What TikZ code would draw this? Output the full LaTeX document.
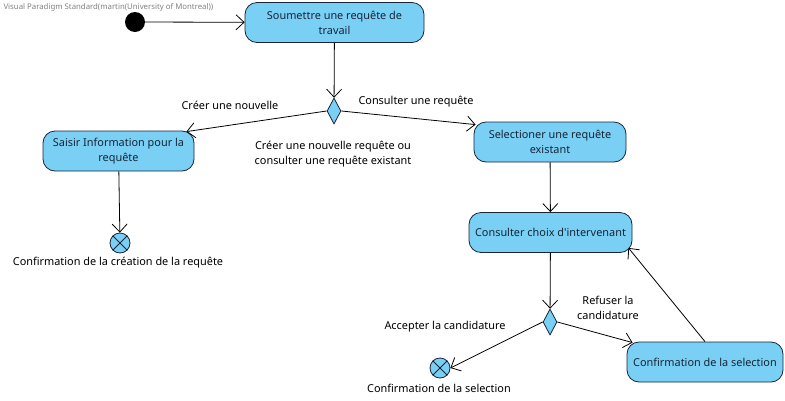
\documentclass[tikz,border=0pt]{standalone}
\usepackage{fontspec}
\setmainfont{Noto Sans}
\usepackage{xcolor}
\usetikzlibrary{shapes.geometric, arrows.meta, positioning}

\definecolor{actblue}{RGB}{122,207,245}
\definecolor{actline}{RGB}{22,38,56}

\begin{document}
\begin{tikzpicture}[
        x=1pt, y=-1pt,
        font=\fontsize{10.9}{15}\selectfont,
        action/.style={rectangle, draw=actline, line width=0.8pt, fill=actblue, text=actline, rounded corners=12pt, align=center, minimum width=#1, minimum height=40pt, inner xsep=4pt, inner ysep=2pt},
        choice/.style={diamond, draw=actline, line width=0.8pt, fill=actblue, minimum width=14pt, minimum height=26pt, inner sep=0pt},
        start/.style={circle, fill=black, minimum size=20pt, inner sep=0pt},
        finish/.style={circle, draw=actline, line width=0.8pt, fill=actblue, minimum size=20pt, inner sep=0pt},
        arrow/.style={-{Straight Barb[length=8pt, width=15pt]}, line width=0.8pt}
    ]
    \useasboundingbox (0,0) rectangle (785,400);

    \node [anchor=west, text=gray, font=\fontsize{7.8}{9}\selectfont] (mark) at (0,7) {Visual Paradigm Standard(martin(University of Montreal))};

    \node [start] (init) at (135,22) {};
    \node [action=179pt] (submit) at (334.5,22.5) {Soumettre une requête de\\travail};
    \node [choice] (choix1) at (334,111) {};

    \node [action=151pt] (saisir) at (118.5,151) {Saisir Information pour la\\requête};
    \node [finish] (fin1) at (120,243) {};

    \node [action=152pt] (select) at (550,142) {Selectioner une requête\\existant};
    \node [action=163pt] (consult) at (550.5,232.5) {Consulter choix d\textquotesingle intervenant};
    \node [choice] (choix2) at (550,322) {};
    \node [finish] (fin2) at (440,368) {};
    \node [action=156pt] (confirm) at (705,362) {Confirmation de la selection};

    % labels
    \node (lblnew) at (230,105) {Créer une nouvelle};
    \node (lblcons) at (416,102) {Consulter une requête};
    \node [align=center] (lblchoix) at (333,154) {Créer une nouvelle requête ou\\consulter une requête existant};
    \node (lblfin1) at (118,263) {Confirmation de la création de la requête};
    \node (lblacc) at (445,327) {Accepter la candidature};
    \node [align=center] (lblref) at (608,308) {Refuser la\\candidature};
    \node (lblfin2) at (439,388) {Confirmation de la selection};

    % crosses of the final nodes
    \draw [actline, line width=0.8pt] (fin1.north west) -- (fin1.south east) (fin1.north east) -- (fin1.south west);
    \draw [actline, line width=0.8pt] (fin2.north west) -- (fin2.south east) (fin2.north east) -- (fin2.south west);

    \draw [arrow] (init) -- (submit);
    \draw [arrow] (submit) -- (choix1);
    \draw [arrow] (choix1.west) -- ([shift={(-8,1)}]saisir.north east);
    \draw [arrow] (choix1.east) -- ([shift={(2,3)}]select.north west);
    \draw [arrow] (saisir) -- (fin1);
    \draw [arrow] (select) -- (consult);
    \draw [arrow] (consult) -- (choix2);
    \draw [arrow] (choix2.west) -- (fin2.east);
    \draw [arrow] (choix2.east) -- ([shift={(6,1)}]confirm.north west);
    \draw [arrow] (confirm.north) -- ([shift={(-4,-5)}]consult.south east);

    \end{tikzpicture}
\end{document}
